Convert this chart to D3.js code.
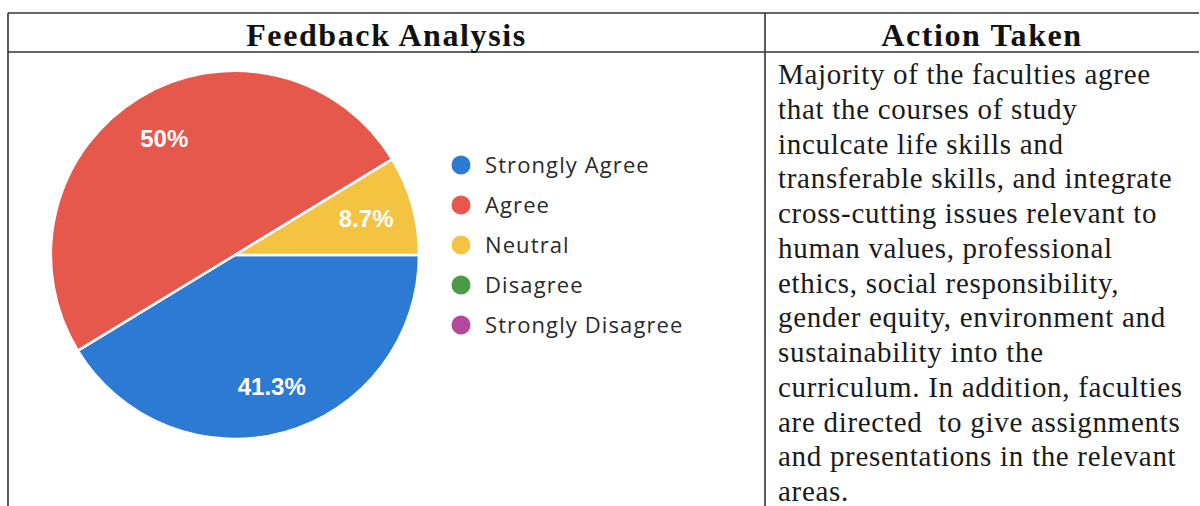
<!DOCTYPE html>
<html>
<head>
<meta charset="utf-8">
<script src="https://cdn.jsdelivr.net/npm/d3@7"></script>
<style>
  body { margin: 0; background: #fff; }
</style>
</head>
<body>
<div class="vis-container"></div>
<script>
// Data
const categories = ['Strongly Agree', 'Agree', 'Neutral', 'Disagree', 'Strongly Disagree'];
const values = [41.3, 50, 8.7, 0, 0];
const colors = ['#2c7ad4', '#e6584b', '#f5c342', '#4a9a48', '#b3499b'];
const headers = ['Feedback Analysis', 'Action Taken'];
const actionLines = [
  'Majority of the faculties agree',
  'that the courses of study',
  'inculcate life skills and',
  'transferable skills, and integrate',
  'cross-cutting issues relevant to',
  'human values, professional',
  'ethics, social responsibility,',
  'gender equity, environment and',
  'sustainability into the',
  'curriculum. In addition, faculties',
  'are directed  to give assignments',
  'and presentations in the relevant',
  'areas.'
];

const width = 1200;
const height = 506;

const svg = d3
  .select('.vis-container')
  .append('svg')
  .attr('width', width)
  .attr('height', height);

// Table frame
const tableLeft = 8;
const tableTop = 13;
const headerBottom = 52;
const divider = 765;
const tableRight = 1199;

const frame = svg.append('g').attr('stroke', '#333').attr('stroke-width', 1.6);
frame.append('line').attr('x1', tableLeft).attr('x2', tableRight).attr('y1', tableTop).attr('y2', tableTop);
frame.append('line').attr('x1', tableLeft).attr('x2', tableRight).attr('y1', headerBottom).attr('y2', headerBottom);
frame.append('line').attr('x1', tableLeft).attr('x2', tableLeft).attr('y1', tableTop).attr('y2', height);
frame.append('line').attr('x1', divider).attr('x2', divider).attr('y1', tableTop).attr('y2', height);

svg
  .selectAll('text.header')
  .data(headers)
  .join('text')
  .attr('class', 'header')
  .attr('x', (d, i) => (i === 0 ? (tableLeft + divider) / 2 : (divider + tableRight) / 2))
  .attr('y', 46)
  .attr('text-anchor', 'middle')
  .attr('font-family', '"Liberation Serif", "Times New Roman", serif')
  .attr('font-weight', 'bold')
  .attr('font-size', 32)
  .attr('letter-spacing', 1.6)
  .attr('fill', '#111')
  .text((d) => d);

// Pie chart
const cx = 235;
const cy = 255;
const radius = 184;

const color = d3.scaleOrdinal().domain(categories).range(colors);

const pie = d3
  .pie()
  .sort(null)
  .value((d) => d.value)
  .startAngle(Math.PI / 2)
  .endAngle(Math.PI / 2 + 2 * Math.PI);

const data = categories.map((c, i) => ({ name: c, value: values[i] }));
const arcs = pie(data).filter((d) => d.data.value > 0);

const arc = d3.arc().innerRadius(0).outerRadius(radius);
const labelArc = d3.arc().innerRadius(radius * 0.74).outerRadius(radius * 0.74);

const pieGroup = svg.append('g').attr('transform', `translate(${cx},${cy})`);

pieGroup
  .selectAll('path')
  .data(arcs)
  .join('path')
  .attr('d', arc)
  .attr('fill', (d) => color(d.data.name))
  .attr('stroke', '#fff')
  .attr('stroke-width', 2.5)
  .attr('stroke-linejoin', 'round');

pieGroup
  .selectAll('text')
  .data(arcs)
  .join('text')
  .attr('transform', (d) => `translate(${labelArc.centroid(d)})`)
  .attr('text-anchor', 'middle')
  .attr('dy', '0.35em')
  .attr('font-family', '"Liberation Sans", Arial, sans-serif')
  .attr('font-weight', 'bold')
  .attr('font-size', 24)
  .attr('fill', '#fff')
  .text((d) => d3.format('~r')(d.data.value) + '%');

// Legend
const legendY = d3.scalePoint().domain(categories).range([165, 325]);

const legend = svg
  .append('g')
  .selectAll('g')
  .data(categories)
  .join('g')
  .attr('transform', (d) => `translate(461,${legendY(d)})`);

legend
  .append('circle')
  .attr('r', 9.5)
  .attr('fill', (d) => color(d));

legend
  .append('text')
  .attr('x', 24)
  .attr('dy', '0.35em')
  .attr('font-family', '"Open Sans", Roboto, sans-serif')
  .attr('font-size', 22)
  .attr('letter-spacing', 1.1)
  .attr('fill', '#2a2a2a')
  .text((d) => d);

// Action Taken text
const lineY = d3.scaleLinear().domain([0, actionLines.length - 1]).range([84, 501]);

svg
  .append('g')
  .selectAll('text')
  .data(actionLines)
  .join('text')
  .attr('x', 778)
  .attr('y', (d, i) => lineY(i))
  .attr('font-family', '"Liberation Serif", "Times New Roman", serif')
  .attr('font-size', 29)
  .attr('letter-spacing', 0.7)
  .attr('fill', '#1a1a1a')
  .attr('xml:space', 'preserve')
  .style('white-space', 'pre')
  .text((d) => d);
</script>
</body>
</html>
